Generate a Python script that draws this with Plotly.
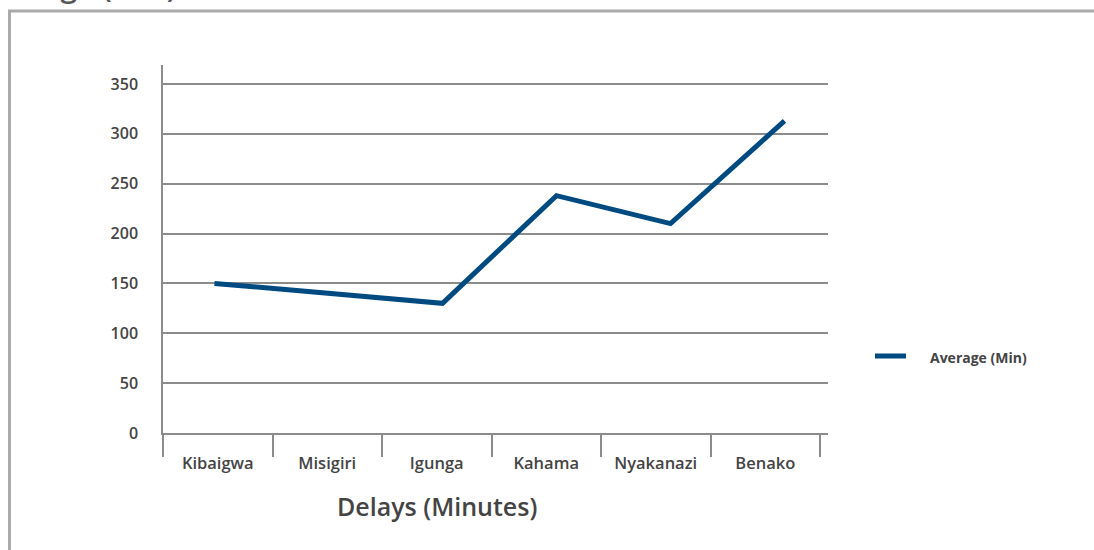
import plotly.graph_objects as go

categories = ["Kibaigwa", "Misigiri", "Igunga", "Kahama", "Nyakanazi", "Benako"]
average_min = [150, 140, 130, 238, 210, 313]
y_ticks = [0, 50, 100, 150, 200, 250, 300, 350]
series_name = "Average (Min)"
x_title = "Delays (Minutes)"

W, H = 1094, 550
L, R, T, B = 163, 828, 65, 433
pw, ph = R - L, B - T

def px(x):
    return (x - L) / pw

def py(y):
    return (B - y) / ph

FONT = "Open Sans"
TXT = "#444444"
GRID = "#8c8c8c"
BLUE = "#004a82"

# category band width of the labelled axis, and spacing of the drawn line (source chart offset)
band = 109.5
line_step, line_start = 114.0, 214.5
a2 = -(line_start - L) / line_step

fig = go.Figure()
# invisible trace that anchors the labelled category axis
fig.add_trace(go.Scatter(
    x=categories, y=average_min, mode="lines", line=dict(width=0),
    opacity=0, showlegend=False, hoverinfo="skip", xaxis="x",
))
fig.add_trace(go.Scatter(
    x=categories, y=average_min, mode="lines", name=series_name,
    line=dict(color=BLUE, width=5), showlegend=False, xaxis="x2",
))

fig.update_layout(
    width=W, height=H,
    margin=dict(l=L, r=W - R, t=T, b=H - B),
    paper_bgcolor="white", plot_bgcolor="white",
    font=dict(family=FONT, color=TXT),
    showlegend=False,
    xaxis=dict(
        type="category", categoryarray=categories, categoryorder="array",
        range=[-0.5, -0.5 + pw / band],
        showline=True, linecolor=GRID, linewidth=1.5,
        ticks="outside", tickson="boundaries", ticklen=22, tickcolor=GRID, tickwidth=1.5,
        showgrid=False,
        ticklabelstandoff=14,
        tickfont=dict(size=16.5, family=FONT, color=TXT, weight=600),
    ),
    xaxis2=dict(
        type="category", categoryarray=categories, categoryorder="array",
        overlaying="x", range=[a2, a2 + pw / line_step], visible=False,
    ),
    yaxis=dict(
        range=[0, 369], tickvals=y_ticks,
        showline=True, linecolor=GRID, linewidth=1.5,
        showgrid=True, gridcolor=GRID, gridwidth=1.5,
        zeroline=False, ticks="",
        ticklabelstandoff=20,
        tickfont=dict(size=16, family=FONT, color=TXT, weight=600),
    ),
    annotations=[
        dict(text=x_title, xref="paper", yref="paper", x=px(437), y=py(506),
             xanchor="center", yanchor="middle", showarrow=False,
             font=dict(size=25, family=FONT, color=TXT, weight=600)),
        dict(text=series_name, xref="paper", yref="paper", x=px(178), y=py(8),
             xanchor="right", yanchor="bottom", showarrow=False,
             font=dict(size=30, family=FONT, color="#555555", weight=600)),
        dict(text=series_name, xref="paper", yref="paper", x=px(928), y=py(357),
             xanchor="left", yanchor="middle", showarrow=False,
             font=dict(size=14, family=FONT, color=TXT, weight=700)),
    ],
    shapes=[
        dict(type="rect", xref="paper", yref="paper",
             x0=px(9.5), x1=px(1110), y0=py(11), y1=py(570),
             line=dict(color="#aaaaaa", width=3), fillcolor="rgba(0,0,0,0)", layer="below"),
        dict(type="line", xref="paper", yref="paper",
             x0=px(875), x1=px(906), y0=py(356), y1=py(356),
             line=dict(color=BLUE, width=5)),
    ],
)

fig.write_html(
    "out.html",
    config={"displayModeBar": False},
    post_script="document.body.style.margin='0';document.body.style.overflow='hidden';",
)
